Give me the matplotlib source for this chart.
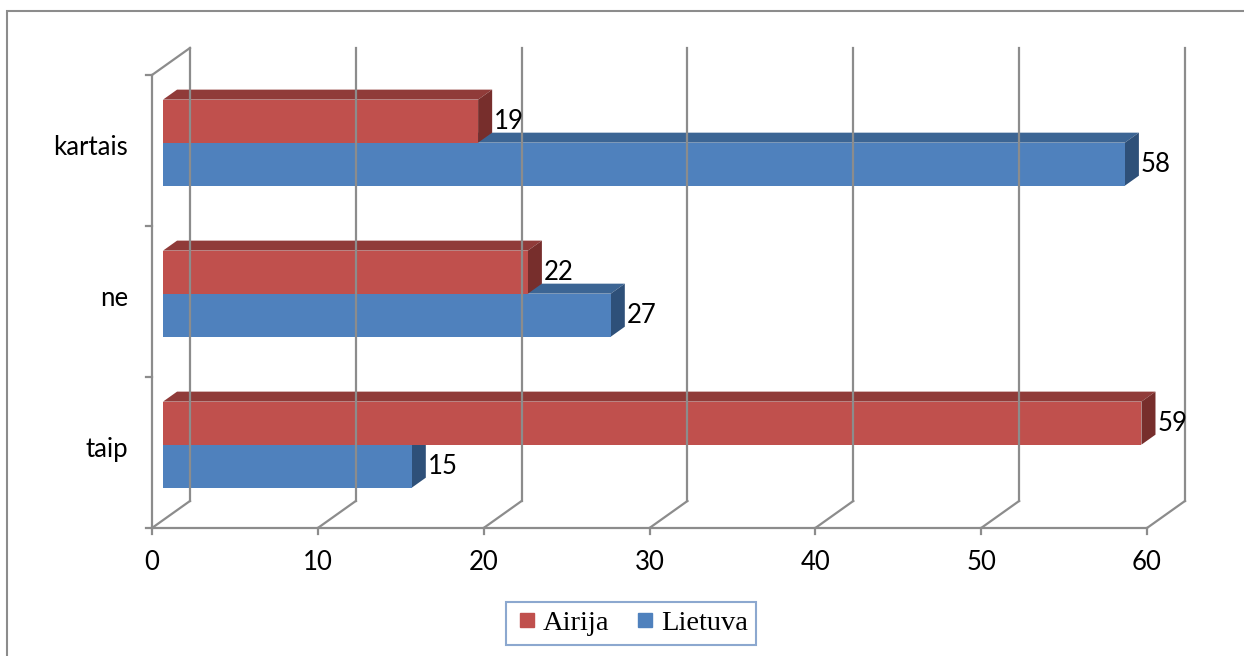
import matplotlib
matplotlib.use("Agg")
import matplotlib.pyplot as plt
from matplotlib.patches import Polygon, Rectangle
from matplotlib.lines import Line2D

categories = ["taip", "ne", "kartais"]
airija = [59, 22, 19]
lietuva = [15, 27, 58]
xticks = [0, 10, 20, 30, 40, 50, 60]

red = ("#C0504D", "#903B39", "#772E2C")    # front, top, side
blue = ("#4F81BD", "#3C6594", "#2E5079")
grid = "#8C8C8C"

# oblique projection of the depth axis, in data units
DX, DY = 2.29, 0.179
F0, FD = 0.29, 0.37    # bar front offset and bar depth as fractions of full depth
BH = 0.285             # bar thickness
FS = 18.5

plt.rcParams["font.family"] = ["Lato", "DejaVu Sans"]

fig = plt.figure(figsize=(12.44, 6.56), dpi=100)
ax = fig.add_axes([152 / 1244, 128 / 656, 995 / 1244, 453 / 656])
ax.set_xlim(0, 60)
ax.set_ylim(-0.5, 2.5)
ax.axis("off")


def line(xs, ys, **kw):
    ax.add_line(Line2D(xs, ys, color=grid, lw=1.6, clip_on=False, **kw))


# back wall gridlines, floor diagonals and ticks
for v in xticks:
    line([v + DX, v + DX], [-0.5 + DY, 2.5 + DY])
    line([v, v + DX], [-0.5, -0.5 + DY])
    line([v, v], [-0.5, -0.54])
    ax.text(v, -0.73, str(v), ha="center", va="center", fontsize=FS)
line([0, 60], [-0.5, -0.5])
line([0, 0], [-0.5, 2.5])
line([0, DX], [2.5, 2.5 + DY])
for b in [-0.5, 0.5, 1.5, 2.5]:
    line([-0.36, 0], [b, b])

for i, c in enumerate(categories):
    ax.text(-1.45, i + 0.02, c, ha="right", va="center", fontsize=FS)


def bar3d(v, y0, cols):
    x0 = F0 * DX
    yb = y0 + F0 * DY
    ddx, ddy = FD * DX, FD * DY
    x1 = x0 + v
    yt = yb + BH
    top = [(x0, yt), (x1, yt), (x1 + ddx, yt + ddy), (x0 + ddx, yt + ddy)]
    side = [(x1, yb), (x1 + ddx, yb + ddy), (x1 + ddx, yt + ddy), (x1, yt)]
    front = [(x0, yb), (x1, yb), (x1, yt), (x0, yt)]
    ax.add_patch(Polygon(top, closed=True, fc=cols[1], ec="none", clip_on=False))
    ax.add_patch(Polygon(side, closed=True, fc=cols[2], ec="none", clip_on=False))
    ax.add_patch(Polygon(front, closed=True, fc=cols[0], ec="none", clip_on=False))
    ax.text(x1 + ddx + 0.1, yb + BH / 2, str(v), ha="left", va="center", fontsize=FS)


for i in range(len(categories)):
    bar3d(lietuva[i], i - BH, blue)
    bar3d(airija[i], i, red)

handles = [
    Line2D([], [], ls="none", marker="s", ms=10, mfc=red[0], mec=red[0]),
    Line2D([], [], ls="none", marker="s", ms=10, mfc=blue[0], mec=blue[0]),
]
leg = fig.legend(handles, ["Airija", "Lietuva"], loc="center",
                 bbox_to_anchor=(631 / 1244, 1 - 623.5 / 656), ncol=2,
                 prop={"family": "Liberation Serif", "size": 20.5},
                 frameon=True, fancybox=False, handletextpad=0.1,
                 columnspacing=0.8, borderpad=0.3, handlelength=0.9)
leg.get_frame().set_edgecolor("#6F93C3")
leg.get_frame().set_linewidth(1.5)

fig.patches.append(Rectangle((7.5 / 1244, -0.05), 1.1, 1 - 10.5 / 656 + 0.05,
                             transform=fig.transFigure, fill=False,
                             ec=grid, lw=1.5, clip_on=False))

fig.savefig("out.png", dpi=100)
